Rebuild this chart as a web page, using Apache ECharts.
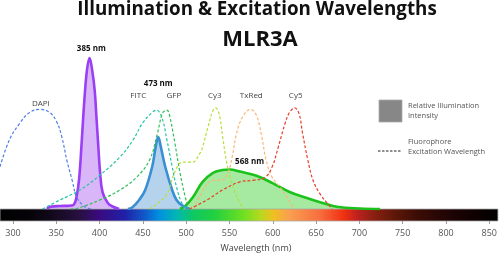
<!DOCTYPE html>
<html><head><meta charset="utf-8">
<script src="https://cdn.jsdelivr.net/npm/echarts@6/dist/echarts.min.js"></script>
<style>html,body{margin:0;padding:0;background:#fff}#c{width:500px;height:254px}</style>
</head><body><div id="c"></div>
<script>
const titleText = 'Illumination & Excitation Wavelengths';
const subtitleText = 'MLR3A';
const axisName = 'Wavelength (nm)';
const tickValues = [300, 350, 400, 450, 500, 550, 600, 650, 700, 750, 800, 850];
const legendIllum = 'Relative Illumination\nIntensity';
const legendFluor = 'Fluorophore\nExcitation Wavelength';

// Illumination (LED) spectra  [wavelength nm, relative intensity]
const led385 = [[339,0],[343,0.015],[354,0.02],[365,0.022],[370,0.03],[373,0.08],[376,0.2],[379,0.45],[382,0.72],[385,0.92],[388,1.0],[391,0.92],[394,0.78],[396,0.6],[398,0.42],[400,0.25],[403,0.11],[409,0.04],[415,0.015],[422,0]];
const led473 = [[432,0],[437,0.01],[445,0.06],[452,0.126],[460,0.28],[464,0.41],[467,0.477],[470,0.41],[475,0.28],[483,0.126],[488,0.06],[494,0.026],[503,0]];
const led568 = [[492,0],[498,0.02],[507,0.08],[518,0.18],[530,0.24],[541,0.258],[549,0.262],[561,0.248],[580,0.22],[599,0.17],[618,0.113],[638,0.073],[656,0.04],[674,0.013],[699,0.003],[722,0]];

// Fluorophore excitation spectra
const dapi = [[285,0.28],[296,0.46],[308,0.57],[319,0.64],[331,0.66],[342,0.64],[350,0.58],[356,0.48],[362,0.32],[368,0.19],[373,0.08],[380,0.026],[386,0.005],[392,0]];
const fitc = [[334,0],[354,0.06],[377,0.126],[400,0.225],[423,0.345],[438,0.457],[449,0.57],[460,0.64],[465,0.655],[471,0.61],[477,0.457],[483,0.28],[488,0.146],[494,0.04],[500,0]];
const gfp = [[366,0],[374,0.005],[400,0.06],[423,0.126],[442,0.21],[457,0.325],[466,0.5],[472,0.635],[477,0.655],[480,0.62],[486,0.44],[492,0.24],[498,0.08],[502,0]];
const cy3 = [[457,0],[467,0.04],[477,0.1],[486,0.245],[495,0.31],[506,0.31],[515,0.37],[518,0.41],[524,0.54],[530,0.655],[533,0.67],[537,0.63],[541,0.48],[546,0.3],[553,0.146],[561,0.04],[566,0]];
const txred = [[507,0],[511,0.04],[521,0.146],[529,0.19],[538,0.19],[546,0.225],[552,0.345],[557,0.5],[564,0.61],[573,0.66],[580,0.62],[586,0.48],[591,0.325],[598,0.21],[607,0.146],[615,0.08],[622,0.01]];
const cy5 = [[503,0],[523,0.06],[541,0.126],[561,0.18],[576,0.19],[590,0.21],[598,0.28],[605,0.41],[613,0.57],[618,0.64],[624,0.67],[629,0.63],[633,0.5],[639,0.325],[645,0.19],[653,0.1],[661,0.04],[667,0]];

const fluorNames = ['DAPI', 'FITC', 'GFP', 'Cy3', 'TxRed', 'Cy5'];
const fluorLabelAt = [[332,0.70],[444,0.75],[485,0.75],[532,0.75],[574,0.75],[625,0.75]];
const peakNames = ['385 nm', '473 nm', '568 nm'];
const peakLabelAt = [[390,1.06],[467,0.83],[572,0.31]];

const spectrumBand = [[285, 860]];
const spectrumStops = [[285,'#000000'],[319,'#050308'],[342,'#100818'],[377,'#281040'],[400,'#3a0a80'],[429,'#2020a8'],[452,'#1058c8'],[469,'#0090e0'],[490,'#00b8b0'],[509,'#10c860'],[532,'#20d040'],[567,'#70e020'],[586,'#b8d820'],[601,'#f0c020'],[618,'#f8a050'],[653,'#f87040'],[682,'#f03010'],[697,'#c02020'],[716,'#8a2010'],[739,'#601808'],[768,'#3a0c05'],[802,'#200505'],[831,'#100000'],[860,'#000000']];

const XMIN = 285, XMAX = 860;
const FONT = '"Open Sans", "Noto Sans", sans-serif';

function labelPoint(name, coord, bold) {
  return {
    symbol: 'circle', symbolSize: 1, silent: true,
    itemStyle: { color: 'rgba(0,0,0,0)' },
    label: { show: true, position: 'inside', formatter: '{b}', fontFamily: FONT,
      fontSize: 8, fontWeight: bold ? 'bold' : 'normal', color: bold ? '#111' : '#444' },
    data: [{ name: name, coord: coord }]
  };
}
function illum(name, data, stroke, fill, idx) {
  return { type: 'line', name: name, data: data, xAxisIndex: 0, yAxisIndex: 0,
    smooth: 0.4, showSymbol: false, z: 2,
    lineStyle: { color: stroke, width: 2.6 }, areaStyle: { color: fill, opacity: 1 },
    markPoint: labelPoint(peakNames[idx], peakLabelAt[idx], true) };
}
function fluor(idx, data, color) {
  return { type: 'line', name: fluorNames[idx], data: data, xAxisIndex: 0, yAxisIndex: 0,
    smooth: 0.4, showSymbol: false, z: 4,
    lineStyle: { color: color, width: 1.2, type: [3, 2] },
    markPoint: labelPoint(fluorNames[idx], fluorLabelAt[idx], false) };
}

const chart = echarts.init(document.getElementById('c'));
chart.setOption({
  animation: false,
  grid: [
    { left: 0, right: 0, top: 43, bottom: 45 },
    { left: 0, right: 0, top: 209, height: 13 }
  ],
  xAxis: [
    { gridIndex: 0, type: 'value', min: XMIN, max: XMAX, show: false },
    { gridIndex: 1, type: 'value', min: XMIN, max: XMAX, offset: 5,
      axisLine: { show: false }, splitLine: { show: false },
      axisTick: { show: true, customValues: tickValues, length: 3, lineStyle: { color: '#999' } },
      axisLabel: { customValues: tickValues, fontSize: 9, color: '#555', margin: 3, fontFamily: FONT },
      name: axisName, nameLocation: 'middle', nameGap: 18,
      nameTextStyle: { fontSize: 9, color: '#444', fontFamily: FONT, padding: [0, 0, 0, 14] } }
  ],
  yAxis: [
    { gridIndex: 0, type: 'value', min: 0, max: 1.1, show: false },
    { gridIndex: 1, type: 'value', min: 0, max: 1, show: false }
  ],
  series: [
    illum('568 nm', led568, '#1cc21c', '#a6e9a0', 2),
    illum('385 nm', led385, '#9b3ff5', '#d9b6f7', 0),
    illum('473 nm', led473, '#3a8fd2', '#b6d3ee', 1),
    fluor(0, dapi, '#4f7fe6'),
    fluor(1, fitc, '#22c6a2'),
    fluor(2, gfp, '#2fbf58'),
    fluor(3, cy3, '#b5e03a'),
    fluor(4, txred, '#fbb67a'),
    fluor(5, cy5, '#e8402c'),
    { type: 'custom', xAxisIndex: 1, yAxisIndex: 1, data: spectrumBand, silent: true,
      encode: { x: [0, 1] },
      renderItem: function (params, api) {
        const p0 = api.coord([api.value(0), 1]);
        const p1 = api.coord([api.value(1), 0]);
        const stops = spectrumStops.map(s => ({ offset: (s[0] - XMIN) / (XMAX - XMIN), color: s[1] }));
        return { type: 'rect', shape: { x: p0[0], y: p0[1], width: p1[0] - p0[0], height: p1[1] - p0[1] },
          style: { fill: new echarts.graphic.LinearGradient(0, 0, 1, 0, stops), stroke: '#aaa', lineWidth: 0.8 } };
      } }
  ],
  graphic: [
    { type: 'text', x: 257, y: 10, style: { text: titleText, fontFamily: FONT, fontSize: 18.8, fontWeight: 'bold', fill: '#111', textAlign: 'center', textVerticalAlign: 'middle' } },
    { type: 'text', x: 260, y: 39.5, style: { text: subtitleText, fontFamily: FONT, fontSize: 22, fontWeight: 'bold', fill: '#111', textAlign: 'center', textVerticalAlign: 'middle' } },
    { type: 'rect', shape: { x: 379, y: 100, width: 23, height: 22 }, style: { fill: '#878787', stroke: '#aaa', lineWidth: 0.8 } },
    { type: 'text', x: 408, y: 111, style: { text: legendIllum, fontFamily: FONT, fontSize: 7.5, lineHeight: 10.5, fill: '#555', textVerticalAlign: 'middle' } },
    { type: 'line', shape: { x1: 378, y1: 151, x2: 402, y2: 151 }, style: { stroke: '#222', lineWidth: 1, lineDash: [2.5, 1.5] } },
    { type: 'text', x: 408, y: 147, style: { text: legendFluor, fontFamily: FONT, fontSize: 7.5, lineHeight: 10.5, fill: '#555', textVerticalAlign: 'middle' } }
  ]
});
</script>
</body></html>
